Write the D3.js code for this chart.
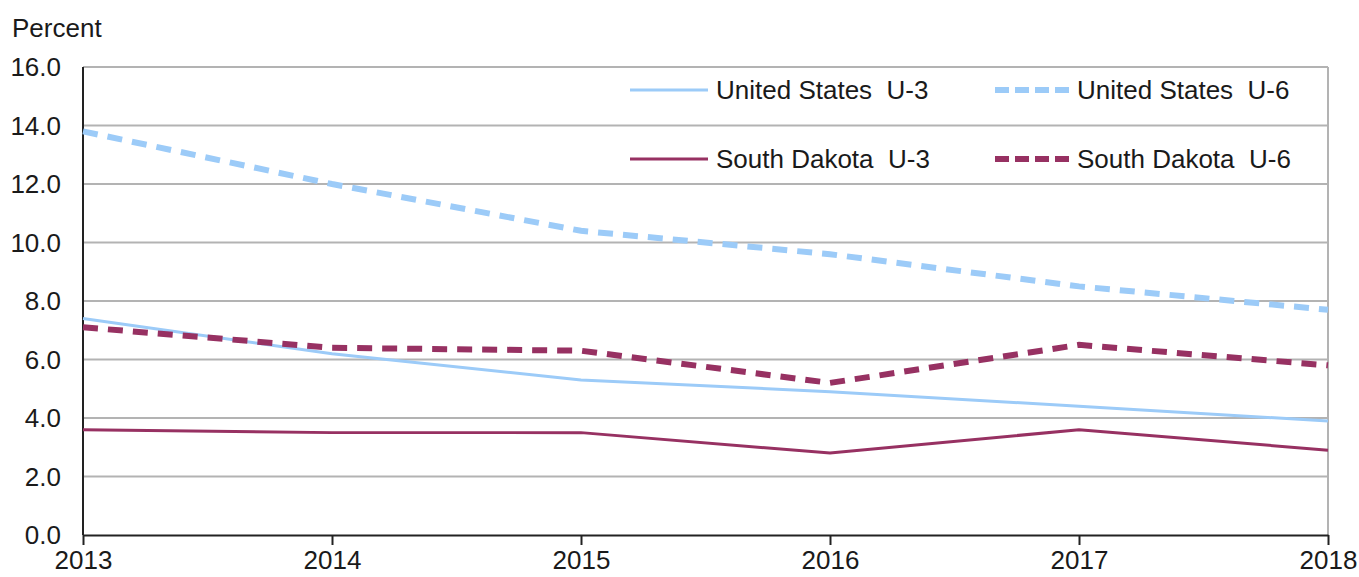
<!DOCTYPE html>
<html>
<head>
<meta charset="utf-8">
<script src="https://cdn.jsdelivr.net/npm/d3@7"></script>
<style>
  body { margin: 0; background: #fff; }
  text { font-family: "Liberation Sans", Arial, sans-serif; fill: #1a1a1a; }
</style>
</head>
<body>
<div id="chart"></div>
<script>
// data
var years = [2013, 2014, 2015, 2016, 2017, 2018];
var usU3 = [7.4, 6.2, 5.3, 4.9, 4.4, 3.9];
var usU6 = [13.8, 12.0, 10.4, 9.6, 8.5, 7.7];
var sdU3 = [3.6, 3.5, 3.5, 2.8, 3.6, 2.9];
var sdU6 = [7.1, 6.4, 6.3, 5.2, 6.5, 5.8];
var yTicks = [0, 2, 4, 6, 8, 10, 12, 14, 16];

var width = 1359, height = 577;
var plotLeft = 83, plotRight = 1328, plotTop = 67, plotBottom = 535;

var svg = d3.select("#chart").append("svg")
  .attr("width", width)
  .attr("height", height);

var x = d3.scaleLinear().domain([2013, 2018]).range([plotLeft, plotRight]);
var y = d3.scaleLinear().domain([0, 16]).range([plotBottom, plotTop]);

// gridlines
svg.append("g")
  .selectAll("line")
  .data(yTicks.slice(1))
  .enter().append("line")
  .attr("x1", plotLeft).attr("x2", plotRight)
  .attr("y1", function(d) { return y(d); })
  .attr("y2", function(d) { return y(d); })
  .attr("stroke", "#b3b3b3")
  .attr("stroke-width", 2);

// right border
svg.append("line")
  .attr("x1", plotRight).attr("x2", plotRight)
  .attr("y1", plotTop).attr("y2", plotBottom)
  .attr("stroke", "#b3b3b3")
  .attr("stroke-width", 2);

// y labels
svg.append("g")
  .selectAll("text")
  .data(yTicks)
  .enter().append("text")
  .attr("x", 61)
  .attr("y", function(d) { return y(d); })
  .attr("dy", "0.35em")
  .attr("text-anchor", "end")
  .style("font-size", "26px")
  .text(function(d) { return d3.format(".1f")(d); });

svg.append("text")
  .attr("x", 12)
  .attr("y", 37)
  .style("font-size", "26px")
  .text("Percent");

// x axis
var xAxis = d3.axisBottom(x)
  .tickValues(years)
  .tickFormat(d3.format("d"))
  .tickSize(10)
  .tickSizeOuter(0);

var gx = svg.append("g")
  .attr("transform", "translate(0," + plotBottom + ")")
  .call(xAxis);
gx.select(".domain").attr("stroke", "#222").attr("stroke-width", 2);
gx.selectAll(".tick line").attr("stroke", "#222").attr("stroke-width", 2);
gx.selectAll(".tick text")
  .attr("y", 16)
  .style("font-size", "26px")
  .style("font-family", "Liberation Sans, Arial, sans-serif")
  .attr("fill", "#1a1a1a");

// y axis line
svg.append("line")
  .attr("x1", plotLeft).attr("x2", plotLeft)
  .attr("y1", plotTop).attr("y2", plotBottom)
  .attr("stroke", "#222")
  .attr("stroke-width", 2);

var series = [
  { name: "United States  U-3", values: usU3, color: "#9ccbf8", width: 3, dash: null },
  { name: "United States  U-6", values: usU6, color: "#9ccbf8", width: 6, dash: "15,10" },
  { name: "South Dakota  U-3", values: sdU3, color: "#973162", width: 3, dash: null },
  { name: "South Dakota  U-6", values: sdU6, color: "#973162", width: 6, dash: "15,10" }
];

var line = d3.line()
  .x(function(d, i) { return x(years[i]); })
  .y(function(d) { return y(d); });

svg.append("g")
  .selectAll("path")
  .data(series)
  .enter().append("path")
  .attr("d", function(d) { return line(d.values); })
  .attr("fill", "none")
  .attr("stroke", function(d) { return d.color; })
  .attr("stroke-width", function(d) { return d.width; })
  .attr("stroke-dasharray", function(d) { return d.dash; });

// legend
var legendPos = [
  { lx: 630, ly: 90 },
  { lx: 995, ly: 90 },
  { lx: 630, ly: 159 },
  { lx: 995, ly: 159 }
];

var leg = svg.append("g")
  .selectAll("g")
  .data(series)
  .enter().append("g")
  .attr("transform", function(d, i) {
    return "translate(" + legendPos[i].lx + "," + legendPos[i].ly + ")";
  });

leg.append("line")
  .attr("x1", 0)
  .attr("x2", function(d) { return d.dash ? 74 : 78; })
  .attr("y1", 0).attr("y2", 0)
  .attr("stroke", function(d) { return d.color; })
  .attr("stroke-width", function(d) { return d.width; })
  .attr("stroke-dasharray", function(d) { return d.dash ? "14,6" : null; });

leg.append("text")
  .attr("x", function(d) { return d.dash ? 82 : 86; })
  .attr("y", 0)
  .attr("dy", "0.35em")
  .style("font-size", "26px")
  .style("white-space", "pre")
  .text(function(d) { return d.name; });
</script>
</body>
</html>
